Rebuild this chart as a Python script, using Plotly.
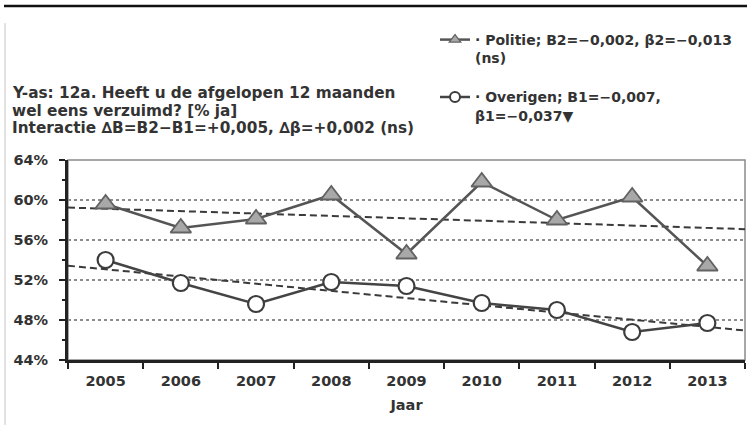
import numpy as np
import plotly.graph_objects as go

# ---- data ----
years = [2005, 2006, 2007, 2008, 2009, 2010, 2011, 2012, 2013]
politie = [59.6, 57.2, 58.1, 60.5, 54.6, 61.8, 58.0, 60.3, 53.4]
overigen = [54.0, 51.7, 49.6, 51.8, 51.4, 49.7, 49.0, 46.8, 47.7]
y_ticks = [44, 48, 52, 56, 60, 64]
y_ticktext = ["44%", "48%", "52%", "56%", "60%", "64%"]

legend_politie = "· Politie; B2=−0,002, β2=−0,013<br>(ns)"
legend_overigen = "· Overigen; B1=−0,007,<br>β1=−0,037▼"
note_lines = ["Y-as: 12a. Heeft u de afgelopen 12 maanden",
              "wel eens verzuimd? [% ja]",
              "Interactie ∆B=B2−B1=+0,005, ∆β=+0,002 (ns)"]
x_title = "Jaar"

# ---- layout constants ----
W, H = 747, 437
ML, MR, MT, MB = 68, 2, 160, 77
FONT = "DejaVu Sans"
TXT = "#333333"

x_lo, x_hi = years[0] - 0.5, years[-1] + 0.5

def trend(vals):
    k, b = np.polyfit(years, vals, 1)
    xs = [x_lo, x_hi]
    return xs, [k * x + b for x in xs]

fig = go.Figure()

for vals in (politie, overigen):
    tx, ty = trend(vals)
    fig.add_trace(go.Scatter(x=tx, y=ty, mode="lines",
                             line=dict(color="#3a3a3a", width=2, dash="7px,4px"),
                             showlegend=False, hoverinfo="skip"))

fig.add_trace(go.Scatter(x=years, y=politie, mode="lines+markers",
                         line=dict(color="#555555", width=2.5),
                         marker=dict(symbol="triangle-up", size=18, color="#a8a8a8",
                                     line=dict(color="#626262", width=1.8)),
                         showlegend=False))
fig.add_trace(go.Scatter(x=years, y=overigen, mode="lines+markers",
                         line=dict(color="#444444", width=2.5),
                         marker=dict(symbol="circle", size=16, color="white",
                                     line=dict(color="#3c3c3c", width=2.2)),
                         showlegend=False))

fig.add_trace(go.Scatter(x=[None], y=[None], mode="lines+markers", name=legend_politie,
                         legendgroup="a",
                         line=dict(color="#555555", width=2.5),
                         marker=dict(symbol="triangle-up", size=10, color="#a8a8a8",
                                     line=dict(color="#626262", width=1.2))))
fig.add_trace(go.Scatter(x=[None], y=[None], mode="lines+markers", name=legend_overigen,
                         legendgroup="b",
                         line=dict(color="#444444", width=2.5),
                         marker=dict(symbol="circle", size=10, color="white",
                                     line=dict(color="#3c3c3c", width=2))))

shapes = [
    dict(type="rect", xref="paper", yref="paper", x0=0, x1=1, y0=0, y1=1,
         line=dict(color="#8a8a8a", width=1.5), layer="below"),
    dict(type="line", xref="paper", yref="paper", xsizemode="pixel", ysizemode="pixel",
         xanchor=0, yanchor=1, x0=4 - ML, x1=W - ML, y0=MT - 6, y1=MT - 6,
         line=dict(color="#111111", width=2.5)),
    dict(type="line", xref="paper", yref="paper", xsizemode="pixel", ysizemode="pixel",
         xanchor=0, yanchor=1, x0=5 - ML, x1=5 - ML, y0=MT - 23, y1=MT - 425,
         line=dict(color="#d8d8d8", width=1.5)),
]

annotations = []
for line_txt, yc in zip(note_lines, [93, 111, 128]):
    annotations.append(dict(text=line_txt, xref="paper", yref="paper",
                            x=(10 - ML) / (W - ML - MR), y=1 + (MT - yc) / (H - MT - MB),
                            xanchor="left", yanchor="middle", showarrow=False,
                            font=dict(family=FONT, size=15.3, color=TXT, weight="bold")))

fig.update_layout(
    width=W, height=H,
    margin=dict(l=ML, r=MR, t=MT, b=MB, autoexpand=False),
    paper_bgcolor="white", plot_bgcolor="white",
    font=dict(family=FONT, size=14, color=TXT),
    shapes=shapes,
    annotations=annotations,
    legend=dict(xref="container", yref="container",
                x=435 / W, xanchor="left", y=1 - 24 / H, yanchor="top",
                traceorder="grouped", tracegroupgap=18, valign="top",
                font=dict(family=FONT, size=14, color=TXT, weight="bold"),
                bgcolor="rgba(0,0,0,0)", itemwidth=30),
    xaxis=dict(range=[x_lo, x_hi], tickmode="array", tickvals=years,
               ticktext=[str(y) for y in years],
               ticks="outside", ticklen=6, tickcolor="rgba(0,0,0,0)",
               ticklabelstandoff=0, automargin=False,
               minor=dict(tickmode="linear", tick0=x_lo, dtick=1, ticks="outside",
                          ticklen=6, tickwidth=2, tickcolor="#222222", showgrid=False),
               showline=True, linecolor="#222222", linewidth=3,
               showgrid=False, zeroline=False,
               tickfont=dict(family=FONT, size=14.5, color=TXT, weight="bold"),
               title=dict(text=x_title, standoff=12,
                          font=dict(family=FONT, size=14.5, color=TXT, weight="bold"))),
    yaxis=dict(range=[y_ticks[0], y_ticks[-1]], tickmode="array", tickvals=y_ticks,
               ticktext=y_ticktext, automargin=False,
               ticks="outside", ticklen=6, tickwidth=2,
               tickcolor="#222222", ticklabelstandoff=8,
               minor=dict(tickmode="linear", tick0=y_ticks[0], dtick=2, ticks="outside",
                          ticklen=3, tickwidth=2, tickcolor="#222222", showgrid=False),
               showline=True, linecolor="#222222", linewidth=3,
               showgrid=True, gridcolor="#8c8c8c", griddash="dot", gridwidth=1.5,
               zeroline=False,
               tickfont=dict(family=FONT, size=14.5, color=TXT, weight="bold")),
)

fig.write_html("out.html", config={"displayModeBar": False},
               post_script="document.body.style.margin='0';")
